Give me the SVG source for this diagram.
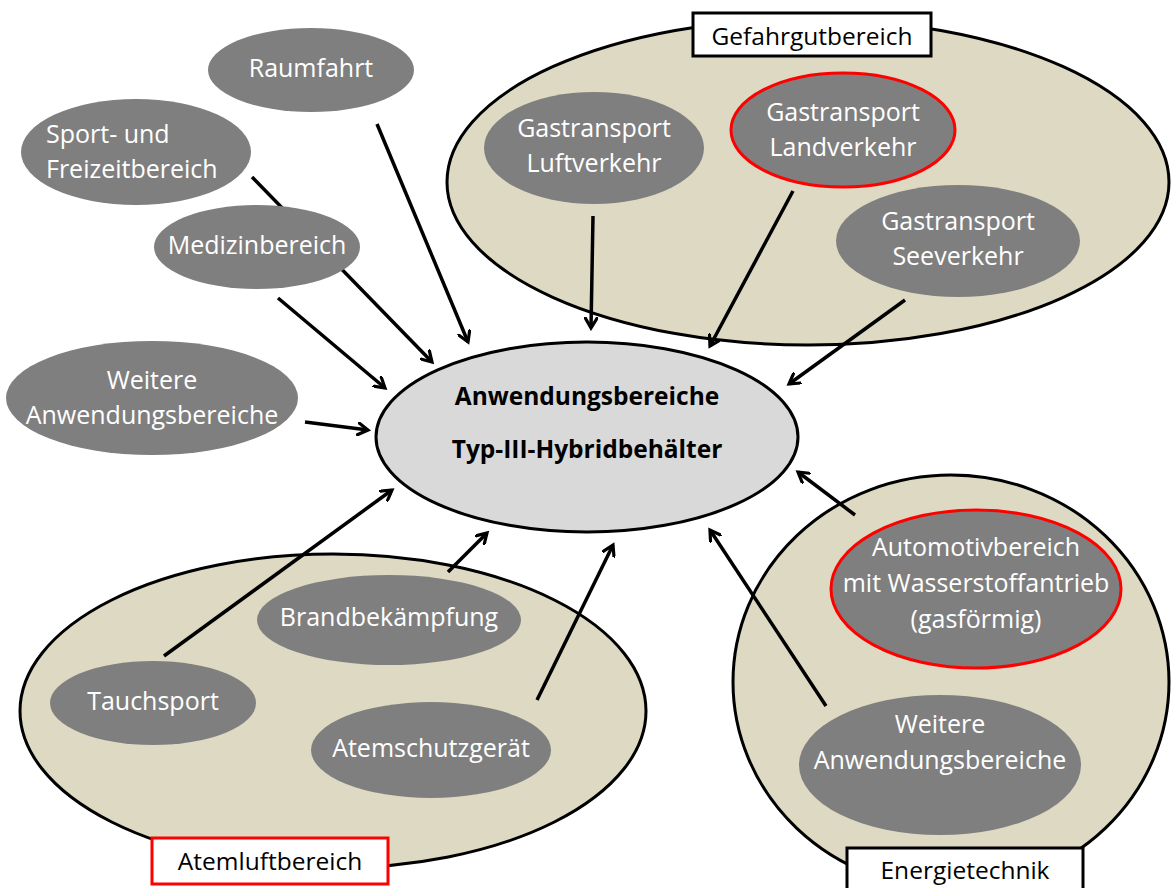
<svg xmlns="http://www.w3.org/2000/svg" width="1171" height="888" viewBox="0 0 1171 888">
<defs>
<marker id="arr" markerWidth="14" markerHeight="14" refX="11" refY="7" orient="auto" markerUnits="userSpaceOnUse">
<path d="M1,1 L11,7 L1,13" fill="none" stroke="#000" stroke-width="3.2" stroke-linecap="round" stroke-linejoin="miter"/>
</marker>
<style>
.grp{fill:#ddd9c3;stroke:#000;stroke-width:3}
.node{fill:#7f7f7f}
.red{stroke:#ff0000;stroke-width:3}
.nt{font-family:"Open Sans",sans-serif;font-size:25px;fill:#fff;text-anchor:middle}
.lbl{fill:#fff;stroke:#000;stroke-width:3}
.lblr{fill:#fff;stroke:#ff0000;stroke-width:3}
.lt{font-family:"Open Sans",sans-serif;font-size:24.5px;fill:#000;text-anchor:middle}
.ct{font-family:"Open Sans",sans-serif;font-size:24.5px;font-weight:bold;fill:#000;text-anchor:middle}
.cn line{stroke:#000;stroke-width:3.5;marker-end:url(#arr)}
</style>
</defs>
<rect width="1171" height="888" fill="#fff"/>

<g id="gefahrgut-group">
<ellipse class="grp" cx="808" cy="182" rx="361" ry="163"/>
</g>
<g id="atemluft-group">
<ellipse class="grp" cx="333" cy="711" rx="313" ry="157"/>
</g>
<g id="energie-group">
<ellipse class="grp" cx="951" cy="682" rx="218" ry="207"/>
</g>

<g id="center">
<ellipse cx="587" cy="437" rx="211" ry="95" fill="#d9d9d9" stroke="#000" stroke-width="3"/>
<text class="ct" x="587" y="405">Anwendungsbereiche</text>
<text class="ct" x="587" y="458">Typ-III-Hybridbehälter</text>
</g>

<g id="connectors" class="cn">
<line x1="377" y1="124" x2="468" y2="342"/>
<line x1="252" y1="177" x2="432" y2="362"/>
<line x1="278" y1="298" x2="385" y2="388"/>
<line x1="305" y1="422" x2="368" y2="430"/>
<line x1="593" y1="216" x2="591" y2="328"/>
<line x1="793" y1="191" x2="710" y2="346"/>
<line x1="905" y1="300" x2="789" y2="384"/>
<line x1="855" y1="515" x2="798" y2="472"/>
<line x1="826" y1="706" x2="710" y2="530"/>
<line x1="537" y1="700" x2="613" y2="545"/>
<line x1="448" y1="572" x2="487" y2="533"/>
<line x1="164" y1="656" x2="392" y2="490"/>
</g>

<g id="raumfahrt">
<ellipse class="node" cx="311" cy="70" rx="103" ry="42"/>
<text class="nt" x="311" y="77">Raumfahrt</text>
</g>
<g id="sport">
<ellipse class="node" cx="136" cy="152" rx="115" ry="53"/>
<text class="nt" x="46" y="143" text-anchor="start" style="text-anchor:start">Sport- und</text>
<text class="nt" x="46" y="178" style="text-anchor:start">Freizeitbereich</text>
</g>
<g id="medizin">
<ellipse class="node" cx="257" cy="247" rx="103" ry="42"/>
<text class="nt" x="257" y="254">Medizinbereich</text>
</g>
<g id="weitere-links">
<ellipse class="node" cx="152" cy="398" rx="146" ry="57"/>
<text class="nt" x="152" y="389">Weitere</text>
<text class="nt" x="152" y="424">Anwendungsbereiche</text>
</g>

<g id="luftverkehr">
<ellipse class="node" cx="594" cy="148" rx="110" ry="56"/>
<text class="nt" x="594" y="137">Gastransport</text>
<text class="nt" x="594" y="172">Luftverkehr</text>
</g>
<g id="landverkehr">
<ellipse class="node red" cx="843" cy="130" rx="112" ry="57"/>
<text class="nt" x="843" y="121">Gastransport</text>
<text class="nt" x="843" y="156">Landverkehr</text>
</g>
<g id="seeverkehr">
<ellipse class="node" cx="958" cy="241" rx="122" ry="56"/>
<text class="nt" x="958" y="230">Gastransport</text>
<text class="nt" x="958" y="265">Seeverkehr</text>
</g>

<g id="brand">
<ellipse class="node" cx="389" cy="620" rx="132" ry="45"/>
<text class="nt" x="389" y="626">Brandbekämpfung</text>
</g>
<g id="tauch">
<ellipse class="node" cx="153" cy="703" rx="103" ry="42"/>
<text class="nt" x="153" y="710">Tauchsport</text>
</g>
<g id="atemschutz">
<ellipse class="node" cx="431" cy="750" rx="120" ry="48"/>
<text class="nt" x="431" y="757">Atemschutzgerät</text>
</g>

<g id="automotiv">
<ellipse class="node red" cx="976" cy="589" rx="145" ry="79"/>
<text class="nt" x="976" y="556">Automotivbereich</text>
<text class="nt" x="976" y="592">mit Wasserstoffantrieb</text>
<text class="nt" x="976" y="628">(gasförmig)</text>
</g>
<g id="weitere-rechts">
<ellipse class="node" cx="940" cy="765" rx="141" ry="70"/>
<text class="nt" x="940" y="733">Weitere</text>
<text class="nt" x="940" y="769">Anwendungsbereiche</text>
</g>

<g id="label-gefahrgut">
<rect class="lbl" x="693" y="13" width="238" height="43"/>
<text class="lt" x="812" y="45">Gefahrgutbereich</text>
</g>
<g id="label-atemluft">
<rect class="lblr" x="152" y="838" width="236" height="46"/>
<text class="lt" x="270" y="870">Atemluftbereich</text>
</g>
<g id="label-energie">
<rect class="lbl" x="847" y="848" width="236" height="46"/>
<text class="lt" x="965" y="879">Energietechnik</text>
</g>
</svg>
